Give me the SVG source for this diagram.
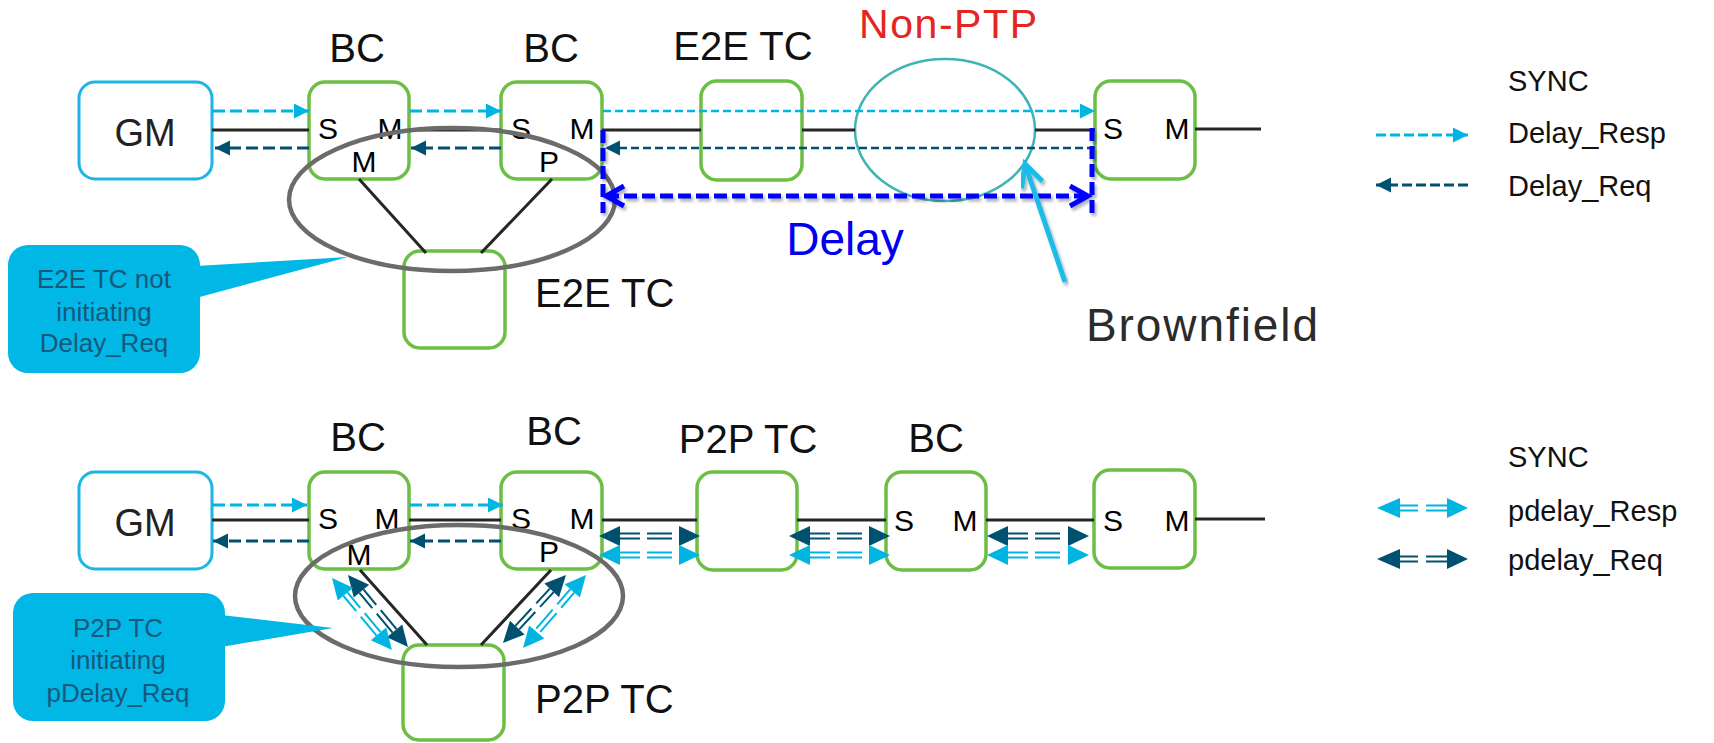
<svg xmlns="http://www.w3.org/2000/svg" width="1714" height="743" viewBox="0 0 1714 743">
<style>
text{font-family:"Liberation Sans",Arial,sans-serif}
.box{fill:#fff;stroke:#6DBE45;stroke-width:3.5}
.gm{fill:#fff;stroke:#1DB4E6;stroke-width:3}
.lbl{font-size:40px;fill:#111;text-anchor:middle}
.gmt{font-size:38px;fill:#222;text-anchor:middle}
.port{font-size:30px;fill:#000;text-anchor:middle}
.link{stroke:#262626;stroke-width:3;fill:none}
.sync{stroke:#00B5E2;stroke-width:3.2;stroke-dasharray:12 5;fill:none;marker-end:url(#aL)}
.dreq{stroke:#00506F;stroke-width:3.2;stroke-dasharray:12 5;fill:none;marker-end:url(#aD)}
.thin{stroke-width:2.6;stroke-dasharray:8 4}
.grp{fill:none;stroke:#6B6B6B;stroke-width:4.5}
.call{fill:#00B7E5}
.callt{font-size:26px;fill:#17597C;text-anchor:middle}
.leg{font-size:29px;fill:#111}
.da path{fill:none;stroke-width:2;stroke-dasharray:20 7 25 100}
.dk polygon{fill:#00506F}.dk path{stroke:#00506F}
.lt polygon{fill:#00B5E2}.lt path{stroke:#00B5E2}
</style>
<defs>
<marker id="aL" markerUnits="userSpaceOnUse" markerWidth="16" markerHeight="16" refX="15" refY="7.5" orient="auto"><path d="M0,0L15,7.5L0,15z" fill="#00B5E2"/></marker>
<marker id="aD" markerUnits="userSpaceOnUse" markerWidth="16" markerHeight="16" refX="15" refY="7.5" orient="auto"><path d="M0,0L15,7.5L0,15z" fill="#00506F"/></marker>
<marker id="chB" markerUnits="userSpaceOnUse" markerWidth="26" markerHeight="26" refX="21" refY="12" orient="auto-start-reverse"><path d="M3,2L21,12L3,22" fill="none" stroke="#0000FF" stroke-width="5"/></marker>
<marker id="chC" markerUnits="userSpaceOnUse" markerWidth="30" markerHeight="30" refX="25" refY="14" orient="auto"><path d="M3,3L25,14L3,25" fill="none" stroke="#1BBBE8" stroke-width="5"/></marker>
<filter id="sh" x="-10%" y="-30%" width="120%" height="160%"><feDropShadow dx="2" dy="3" stdDeviation="1.5" flood-color="#000" flood-opacity="0.3"/></filter>
</defs>

<!-- nodes top row -->
<g id="gm1"><rect class="gm" x="79" y="82" width="133" height="97" rx="16"/><text class="gmt" x="145" y="146">GM</text></g>
<g id="bc1"><rect class="box" x="309" y="82" width="100" height="97" rx="16"/><text class="lbl" x="357" y="62">BC</text><text class="port" x="328" y="139">S</text><text class="port" x="390" y="139">M</text><text class="port" x="364" y="172">M</text></g>
<g id="bc2"><rect class="box" x="501" y="82" width="101" height="97" rx="16"/><text class="lbl" x="551" y="62">BC</text><text class="port" x="521" y="139">S</text><text class="port" x="582" y="139">M</text><text class="port" x="549" y="172">P</text></g>
<g id="e2etc1"><rect class="box" x="701" y="81" width="101" height="99" rx="16"/><text class="lbl" x="743" y="60">E2E TC</text></g>
<g id="nonptp"><ellipse cx="945" cy="130" rx="90" ry="71" fill="none" stroke="#3FB4B4" stroke-width="2.5"/><text x="948" y="38" font-size="41" fill="#E5261F" text-anchor="middle" textLength="178">Non-PTP</text></g>
<g id="sm1"><rect class="box" x="1095" y="81" width="100" height="98" rx="16"/><text class="port" x="1113" y="139">S</text><text class="port" x="1177" y="139">M</text></g>
<g id="e2etc2"><rect class="box" x="404" y="251" width="101" height="97" rx="16"/><text x="535" y="307" font-size="40" fill="#111">E2E TC</text></g>

<!-- nodes bottom row -->
<g id="gm2"><rect class="gm" x="79" y="472" width="133" height="97" rx="16"/><text class="gmt" x="145" y="536">GM</text></g>
<g id="bc3"><rect class="box" x="309" y="472" width="100" height="97" rx="16"/><text class="lbl" x="358" y="451">BC</text><text class="port" x="328" y="529">S</text><text class="port" x="387" y="529">M</text><text class="port" x="359" y="565">M</text></g>
<g id="bc4"><rect class="box" x="501" y="472" width="101" height="97" rx="16"/><text class="lbl" x="554" y="445">BC</text><text class="port" x="521" y="529">S</text><text class="port" x="582" y="529">M</text><text class="port" x="549" y="562">P</text></g>
<g id="p2ptc1"><rect class="box" x="697" y="472" width="100" height="98" rx="16"/><text class="lbl" x="748" y="453">P2P TC</text></g>
<g id="bc5"><rect class="box" x="886" y="472" width="100" height="98" rx="16"/><text class="lbl" x="936" y="452">BC</text><text class="port" x="904" y="531">S</text><text class="port" x="965" y="531">M</text></g>
<g id="sm2"><rect class="box" x="1094" y="470" width="101" height="98" rx="16"/><text class="port" x="1113" y="531">S</text><text class="port" x="1177" y="531">M</text></g>
<g id="p2ptc2"><rect class="box" x="403" y="645" width="101" height="95" rx="16"/><text x="535" y="713" font-size="40" fill="#111">P2P TC</text></g>

<!-- connectors -->
<g id="connectors">
 <path class="link" d="M212,130H309M409,130H501M602,130H701M802,130H855M1035,130H1095M1195,129H1261"/>
 <path class="link" d="M359,179L426,253M552,179L481,253"/>
 <path class="link" d="M212,520H309M409,520H501M602,520H697M797,520H886M986,520H1094M1195,519H1265"/>
 <path class="link" d="M360,570L427,645M551,570L481,645"/>
 <line class="sync" x1="213" y1="111" x2="309" y2="111"/>
 <line class="sync" x1="410" y1="111" x2="501" y2="111"/>
 <line class="sync thin" x1="603" y1="111" x2="1095" y2="111"/>
 <line class="dreq" x1="309" y1="148" x2="215" y2="148"/>
 <line class="dreq" x1="501" y1="148" x2="411" y2="148"/>
 <line class="dreq thin" x1="1095" y1="148" x2="605" y2="148"/>
 <line class="sync" x1="213" y1="505" x2="307" y2="505"/>
 <line class="sync" x1="410" y1="505" x2="503" y2="505"/>
 <line class="dreq" x1="309" y1="541" x2="213" y2="541"/>
 <line class="dreq" x1="501" y1="541" x2="410" y2="541"/>
 <g class="da dk" transform="translate(599,536)"><polygon points="0,0 21,-10 21,10"/><polygon points="101,0 80,-10 80,10"/><path d="M21,-2.6H80M21,2.6H80"/></g>
 <g class="da lt" transform="translate(599,555)"><polygon points="0,0 21,-10 21,10"/><polygon points="101,0 80,-10 80,10"/><path d="M21,-2.6H80M21,2.6H80"/></g>
 <g class="da dk" transform="translate(789,536)"><polygon points="0,0 21,-10 21,10"/><polygon points="101,0 80,-10 80,10"/><path d="M21,-2.6H80M21,2.6H80"/></g>
 <g class="da lt" transform="translate(789,555)"><polygon points="0,0 21,-10 21,10"/><polygon points="101,0 80,-10 80,10"/><path d="M21,-2.6H80M21,2.6H80"/></g>
 <g class="da dk" transform="translate(987,536)"><polygon points="0,0 21,-10 21,10"/><polygon points="102,0 81,-10 81,10"/><path d="M21,-2.6H81M21,2.6H81"/></g>
 <g class="da lt" transform="translate(987,555)"><polygon points="0,0 21,-10 21,10"/><polygon points="102,0 81,-10 81,10"/><path d="M21,-2.6H81M21,2.6H81"/></g>
 <g class="da dk" transform="translate(348,575) rotate(50.2)"><polygon points="0,0 21,-10 21,10"/><polygon points="93.7,0 72.7,-10 72.7,10"/><path d="M21,-2.6H72.7M21,2.6H72.7"/></g>
 <g class="da lt" transform="translate(332,578) rotate(50.2)"><polygon points="0,0 21,-10 21,10"/><polygon points="93.7,0 72.7,-10 72.7,10"/><path d="M21,-2.6H72.7M21,2.6H72.7"/></g>
 <g class="da dk" transform="translate(566,575) rotate(132.8)"><polygon points="0,0 21,-10 21,10"/><polygon points="92.7,0 71.7,-10 71.7,10"/><path d="M21,-2.6H71.7M21,2.6H71.7"/></g>
 <g class="da lt" transform="translate(586,575) rotate(130.8)"><polygon points="0,0 21,-10 21,10"/><polygon points="96.4,0 75.4,-10 75.4,10"/><path d="M21,-2.6H75.4M21,2.6H75.4"/></g>
</g>

<!-- grouping ellipses -->
<g id="groups">
 <ellipse class="grp" cx="452" cy="199.5" rx="163" ry="71.5"/>
 <ellipse class="grp" cx="459" cy="596" rx="164" ry="71"/>
</g>

<!-- delay measurement -->
<g id="delay">
 <g filter="url(#sh)" stroke="#0000FF" stroke-width="5" fill="none">
  <path d="M603,130V213M1092,128V214" stroke-dasharray="13 5"/>
  <path d="M606,196H1088" stroke-dasharray="13 5" marker-start="url(#chB)" marker-end="url(#chB)"/>
 </g>
 <text x="845" y="255" font-size="46" fill="#0000EE" text-anchor="middle">Delay</text>
</g>

<!-- brownfield -->
<g id="brownfield">
 <line x1="1065" y1="282" x2="1025" y2="164" stroke="#1BBBE8" stroke-width="5" marker-end="url(#chC)" filter="url(#sh)"/>
 <text x="1086" y="341" font-size="46" fill="#2B2B2B" textLength="232">Brownfield</text>
</g>

<!-- callouts -->
<g id="callout1">
 <rect class="call" x="8" y="245" width="192" height="128" rx="20"/>
 <polygon class="call" points="196,266 348,257 196,298"/>
 <text class="callt" x="104" y="288">E2E TC not</text>
 <text class="callt" x="104" y="321">initiating</text>
 <text class="callt" x="104" y="352">Delay_Req</text>
</g>
<g id="callout2">
 <rect class="call" x="13" y="593" width="212" height="128" rx="20"/>
 <polygon class="call" points="221,615 333,628 221,647"/>
 <text class="callt" x="118" y="637">P2P TC</text>
 <text class="callt" x="118" y="669">initiating</text>
 <text class="callt" x="118" y="702">pDelay_Req</text>
</g>

<!-- legends -->
<g id="legend1">
 <text class="leg" x="1508" y="91">SYNC</text>
 <text class="leg" x="1508" y="143">Delay_Resp</text>
 <text class="leg" x="1508" y="196">Delay_Req</text>
 <line class="sync" x1="1376" y1="135" x2="1468" y2="135" style="stroke-dasharray:10 4"/>
 <line class="dreq" x1="1468" y1="185" x2="1376" y2="185" style="stroke-dasharray:10 4"/>
</g>
<g id="legend2">
 <text class="leg" x="1508" y="467">SYNC</text>
 <text class="leg" x="1508" y="521">pdelay_Resp</text>
 <text class="leg" x="1508" y="570">pdelay_Req</text>
 <g class="da lt" transform="translate(1377,508)"><polygon points="0,0 23,-10 23,10"/><polygon points="91,0 70,-10 70,10"/><path d="M23,-2.6H70M23,2.6H70" style="stroke-dasharray:18 8 30"/></g>
 <g class="da dk" transform="translate(1377,559)"><polygon points="0,0 23,-10 23,10"/><polygon points="91,0 70,-10 70,10"/><path d="M23,-2.6H70M23,2.6H70" style="stroke-dasharray:18 8 30"/></g>
</g>
</svg>
